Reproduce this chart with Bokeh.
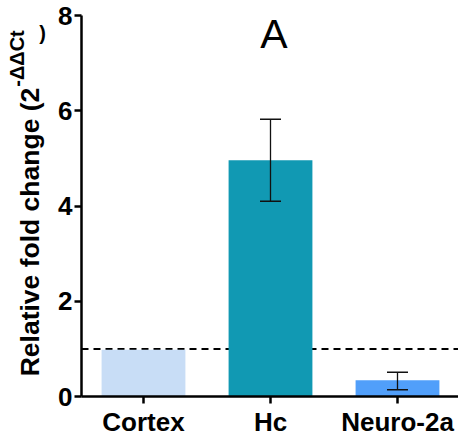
import math
from bokeh.plotting import figure
from bokeh.models import (Range1d, FixedTicker, Whisker, ColumnDataSource,
                          Label, TeeHead)
from bokeh.embed import file_html
from bokeh.resources import INLINE

# ---- data ----
categories = ["Cortex", "Hc", "Neuro-2a"]
fold_change = [0.98, 4.96, 0.34]
err_lower = [None, 4.10, 0.14]
err_upper = [None, 5.82, 0.51]
bar_colors = ["#C8DDF6", "#1199B3", "#519FFA"]
y_ticks = [0, 2, 4, 6, 8]
y_max = 8
reference_level = 1.0
panel_title = "A"
y_label_main = "Relative fold change (2"
y_label_sup = "-\u0394\u0394Ct"
y_label_close = ")"

# ---- geometry helpers (page pixel -> data) ----
W, H = 458, 439
AX_L, AX_B = 81, 396          # axis corner in page pixels

def fx(px):
    return (px - 143.0) / 127.0

def fy(py):
    return (AX_B - py) / 47.625

FONT = "Liberation Sans"
X_LO, X_HI = fx(AX_L), fx(W)

xs = list(range(len(categories)))
src = ColumnDataSource(dict(x=xs, top=fold_change, color=bar_colors))

ei = [i for i in xs if err_lower[i] is not None]
err_src = ColumnDataSource(dict(x=[xs[i] for i in ei],
                                lower=[err_lower[i] for i in ei],
                                upper=[err_upper[i] for i in ei]))

p = figure(width=W, height=H, output_backend="svg", toolbar_location=None,
           x_range=Range1d(fx(0), fx(W)), y_range=Range1d(fy(H), fy(0)),
           min_border_left=0, min_border_right=0, min_border_top=0,
           min_border_bottom=0)
p.outline_line_color = None
p.grid.visible = False
p.background_fill_color = "white"
p.border_fill_color = "white"

# dashed reference line at 1
p.segment(x0=[X_LO], x1=[X_HI], y0=[reference_level], y1=[reference_level],
          line_color="black", line_width=2, line_dash="7 5")

p.vbar(x="x", top="top", width=0.66, fill_color="color", line_color=None, source=src)

wh = Whisker(source=err_src, base="x", lower="lower", upper="upper",
             line_color="#111111", line_width=1.3, level="overlay",
             upper_head=TeeHead(size=21, line_width=1.5, line_color="#111111"),
             lower_head=TeeHead(size=21, line_width=1.5, line_color="#111111"))
p.add_layout(wh)

for ax in (p.xaxis[0], p.yaxis[0]):
    ax.axis_line_width = 2.5
    ax.axis_line_color = "black"
    ax.major_tick_line_width = 2.5
    ax.major_tick_line_color = "black"
    ax.major_tick_out = 7
    ax.major_tick_in = 0
    ax.minor_tick_out = 0
    ax.minor_tick_in = 0
    ax.major_label_text_font = FONT
    ax.major_label_text_font_style = "bold"
    ax.major_label_text_font_size = "26px"
    ax.major_label_text_color = "black"

p.xaxis.ticker = FixedTicker(ticks=xs)
p.xaxis.major_label_overrides = {i: c for i, c in zip(xs, categories)}
p.xaxis.major_label_standoff = 3
p.xaxis.bounds = (X_LO, X_HI)
p.xaxis.fixed_location = 0

p.yaxis.ticker = FixedTicker(ticks=y_ticks)
p.yaxis.major_label_standoff = 2
p.yaxis.bounds = (0, y_max)
p.yaxis.fixed_location = X_LO

p.add_layout(Label(x=fx(273.5), y=fy(33.5), text=panel_title,
                   text_align="center", text_baseline="middle",
                   text_font=FONT, text_font_size="41px", text_color="black"))

# y-axis title: main text, superscript, closing parenthesis
p.add_layout(Label(x=fx(29), y=fy(231.5), text=y_label_main, angle=math.pi / 2,
                   text_align="center", text_baseline="middle",
                   text_font=FONT, text_font_style="bold", text_font_size="26.5px",
                   text_color="black"))
p.add_layout(Label(x=fx(16), y=fy(58), text=y_label_sup, angle=math.pi / 2,
                   text_align="center", text_baseline="middle",
                   text_font=FONT, text_font_style="bold", text_font_size="20px",
                   text_color="black"))
p.add_layout(Label(x=fx(42), y=fy(32), text=y_label_close,
                   text_align="center", text_baseline="middle",
                   text_font=FONT, text_font_style="bold", text_font_size="20px",
                   text_color="black"))

open("out.html", "w").write(file_html(p, INLINE))
